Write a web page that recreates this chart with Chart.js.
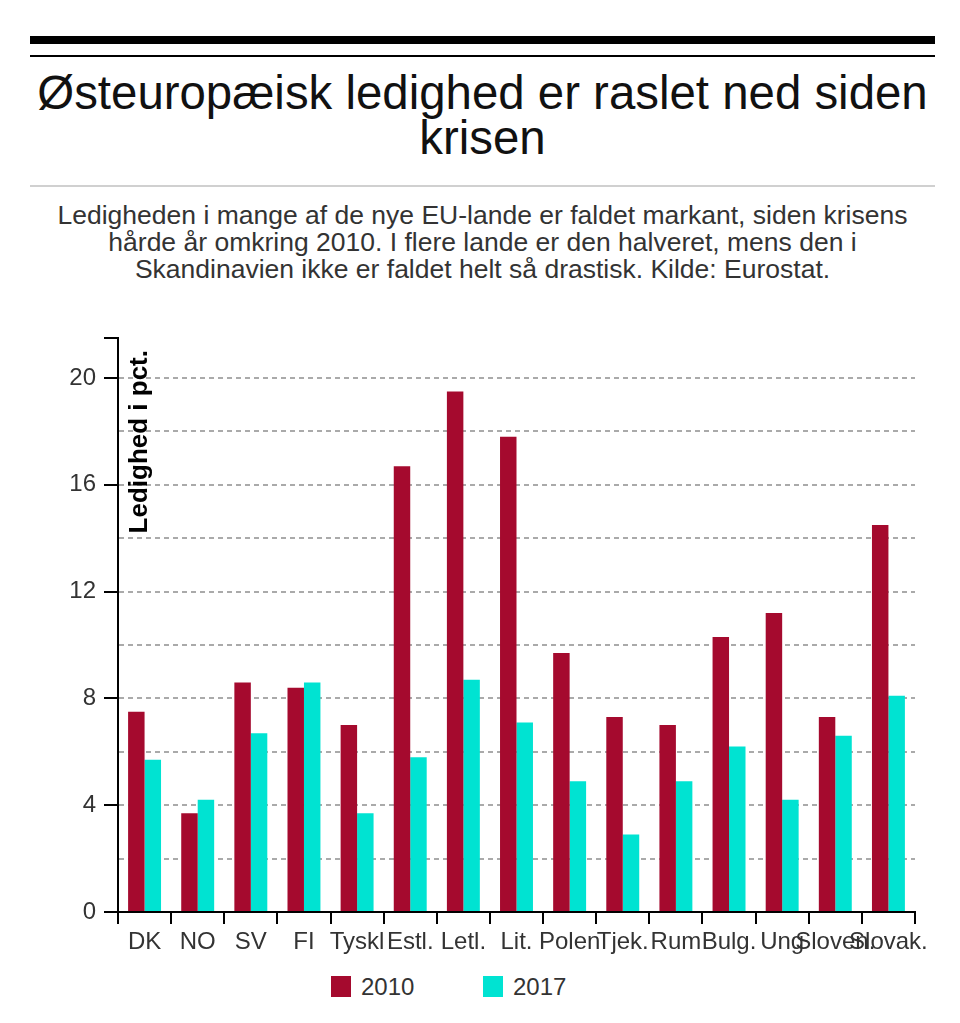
<!DOCTYPE html>
<html lang="da">
<head>
<meta charset="utf-8">
<title>Østeuropæisk ledighed</title>
<script src="https://cdn.jsdelivr.net/npm/chart.js@4/dist/chart.umd.min.js"></script>
<style>
    body { margin: 0; background: #fff; font-family: "Liberation Sans", Arial, sans-serif; }
    #page { position: relative; width: 960px; height: 1023px; }
    .rule { position: absolute; left: 30px; width: 905px; }
    #title { position: absolute; left: 30px; width: 905px; top: 70px; text-align: center;
             font-size: 47.4px; line-height: 45px; color: #111; }
    #subtitle { position: absolute; left: 30px; width: 905px; top: 202px; text-align: center;
                font-size: 26.5px; line-height: 27px; color: #333; }
    #chartBox { position: absolute; left: 0; top: 300px; width: 960px; height: 670px; }
    .legendItem { position: absolute; top: 976px; font-size: 24px; line-height: 22px; color: #333; }
    .legendItem span { display: inline-block; width: 20px; height: 21px; vertical-align: top; margin-right: 10px; }
</style>
</head>
<body>
<div id="page">
    <div class="rule" style="top:36px;height:8px;background:#000"></div>
    <div class="rule" style="top:55px;height:2px;background:#000"></div>
    <div id="title">Østeuropæisk ledighed er raslet ned siden<br>krisen</div>
    <div class="rule" style="top:185px;height:2px;background:#d0d0d0"></div>
    <div id="subtitle">Ledigheden i mange af de nye EU-lande er faldet markant, siden krisens<br>hårde år omkring 2010. I flere lande er den halveret, mens den i<br>Skandinavien ikke er faldet helt så drastisk. Kilde: Eurostat.</div>
    <div id="chartBox"><canvas id="barChart"></canvas></div>
    <div id="legend"></div>
</div>
<script>
// Data (ledighed i pct., Eurostat)
const countries = ['DK', 'NO', 'SV', 'FI', 'Tyskl', 'Estl.', 'Letl.', 'Lit.', 'Polen', 'Tjek.', 'Rum', 'Bulg.', 'Ung', 'Sloven.', 'Slovak.'];
const values2010 = [7.5, 3.7, 8.6, 8.4, 7.0, 16.7, 19.5, 17.8, 9.7, 7.3, 7.0, 10.3, 11.2, 7.3, 14.5];
const values2017 = [5.7, 4.2, 6.7, 8.6, 3.7, 5.8, 8.7, 7.1, 4.9, 2.9, 4.9, 6.2, 4.2, 6.6, 8.1];
const seriesNames = ['2010', '2017'];
const yTickValues = [0, 2, 4, 6, 8, 10, 12, 14, 16, 18, 20, 21.5];
const yMax = 21.5;

const COLOR_2010 = '#a50a2e';
const COLOR_2017 = '#00e3d2';
const FONT = '"Liberation Sans", Arial, sans-serif';

// y axis title sits inside the plot, like the original
const yTitlePlugin = {
    id: 'yTitle',
    afterDraw(chart) {
        const ctx = chart.ctx;
        const area = chart.chartArea;
        ctx.save();
        ctx.translate(area.left + 22, area.top + 12);
        ctx.rotate(-Math.PI / 2);
        ctx.font = 'bold 26px ' + FONT;
        ctx.fillStyle = '#000';
        ctx.textAlign = 'right';
        ctx.textBaseline = 'middle';
        ctx.fillText('Ledighed i pct.', 0, 0);
        ctx.restore();
    }
};

function buildLegend() {
    const legend = document.getElementById('legend');
    const colors = [COLOR_2010, COLOR_2017];
    const lefts = [331, 483];
    seriesNames.forEach((name, i) => {
        const item = document.createElement('div');
        item.className = 'legendItem';
        item.style.left = lefts[i] + 'px';
        item.innerHTML = '<span style="background:' + colors[i] + '"></span>' + name;
        legend.appendChild(item);
    });
}

function renderChart() {
    const ctx = document.getElementById('barChart').getContext('2d');
    new Chart(ctx, {
        type: 'bar',
        data: {
            labels: countries,
            datasets: [
                { label: seriesNames[0], data: values2010, backgroundColor: COLOR_2010 },
                { label: seriesNames[1], data: values2017, backgroundColor: COLOR_2017 }
            ]
        },
        options: {
            responsive: true,
            maintainAspectRatio: false,
            animation: false,
            layout: { padding: { top: 38, right: 45, left: 0, bottom: 0 } },
            datasets: { bar: { categoryPercentage: 0.62, barPercentage: 1.0 } },
            plugins: {
                legend: { display: false },
                tooltip: { enabled: false }
            },
            scales: {
                x: {
                    offset: true,
                    grid: {
                        offset: true,
                        drawOnChartArea: false,
                        drawTicks: true,
                        tickLength: 12,
                        color: '#000',
                        lineWidth: 2
                    },
                    border: { color: '#000', width: 2 },
                    ticks: {
                        autoSkip: false,
                        maxRotation: 0,
                        minRotation: 0,
                        padding: 4,
                        color: '#333',
                        font: { family: FONT, size: 24 }
                    },
                    afterFit(scale) { scale.height = 58; }
                },
                y: {
                    min: 0,
                    max: yMax,
                    afterBuildTicks(scale) {
                        scale.ticks = yTickValues.map(v => ({ value: v }));
                    },
                    grid: {
                        color: c => (c.tick && c.tick.value > 0 && c.tick.value < yMax) ? '#aaa' : 'rgba(0,0,0,0)',
                        lineWidth: 2,
                        tickLength: 14,
                        tickWidth: 2,
                        tickBorderDash: [],
                        tickColor: c => (c.tick && (c.tick.value % 4 === 0 || c.tick.value === yMax)) ? '#000' : 'rgba(0,0,0,0)'
                    },
                    border: { color: '#000', width: 2, dash: [5, 4] },
                    ticks: {
                        padding: 8,
                        color: '#333',
                        font: { family: FONT, size: 24 },
                        callback: v => (v % 4 === 0 ? v : '')
                    },
                    afterFit(scale) { scale.width = 118; }
                }
            }
        },
        plugins: [yTitlePlugin]
    });
}

document.addEventListener('DOMContentLoaded', () => {
    buildLegend();
    renderChart();
});
</script>
</body>
</html>
